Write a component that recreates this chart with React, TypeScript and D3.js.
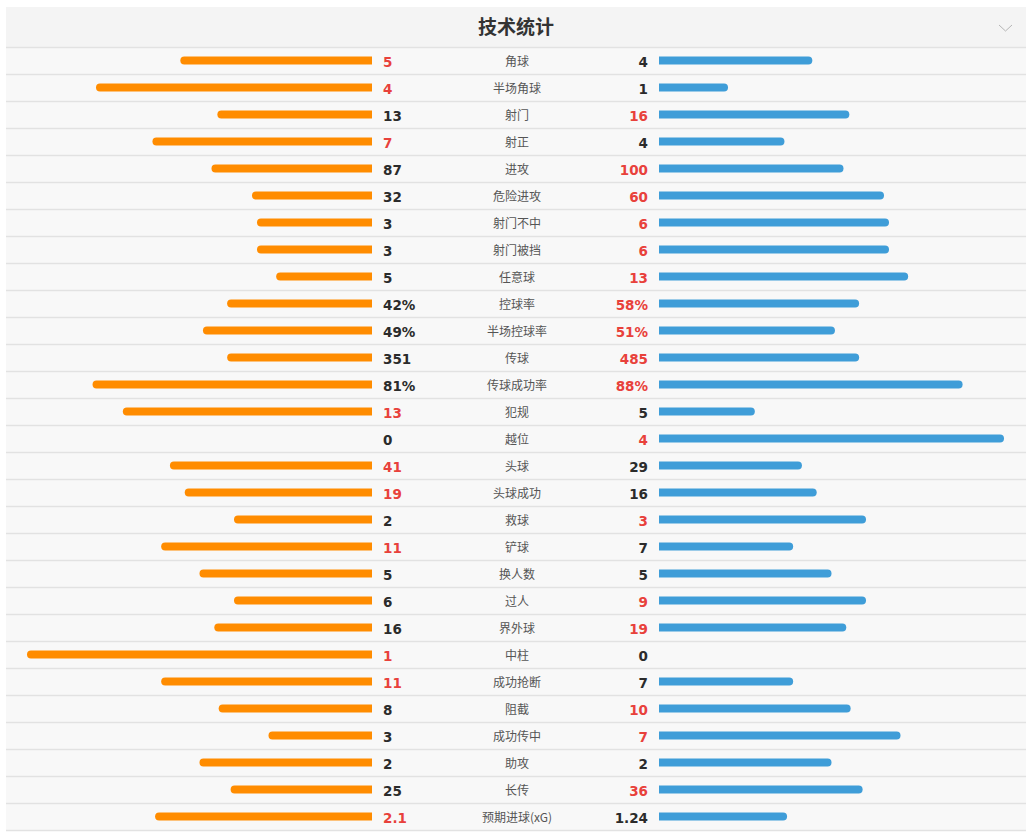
import { useEffect, useRef } from "react"
import * as d3 from "d3"

// stat names, home (left) and away (right) values
const labels = [
  "角球", "半场角球", "射门", "射正", "进攻", "危险进攻", "射门不中", "射门被挡", "任意球",
  "控球率", "半场控球率", "传球", "传球成功率", "犯规", "越位", "头球", "头球成功", "救球",
  "铲球", "换人数", "过人", "界外球", "中柱", "成功抢断", "阻截", "成功传中", "助攻", "长传",
  "预期进球(xG)",
]
const homeValues = [5, 4, 13, 7, 87, 32, 3, 3, 5, 42, 49, 351, 81, 13, 0, 41, 19, 2, 11, 5, 6, 16, 1, 11, 8, 3, 2, 25, 2.1]
const awayValues = [4, 1, 16, 4, 100, 60, 6, 6, 13, 58, 51, 485, 88, 5, 4, 29, 16, 3, 7, 5, 9, 19, 0, 7, 10, 7, 2, 36, 1.24]
const percentRows = ["控球率", "半场控球率", "传球成功率"]

const title = "技术统计"

export default function App() {
  const svgRef = useRef<SVGSVGElement>(null)

  useEffect(() => {
    if (!svgRef.current) return
    const svg = d3.select(svgRef.current)
    svg.selectAll("*").remove()

    const width = 1034
    const height = 834
    const panelX = 6
    const panelW = 1020
    const headerTop = 7
    const headerH = 40
    const rowH = 27
    const top = headerTop + headerH
    const leftEdge = 372
    const rightEdge = 659
    const maxBar = 345
    const barH = 8
    const r = 4

    const orange = "#ff8c00"
    const blue = "#3f9dd8"
    const red = "#e8413b"
    const dark = "#2b2b2b"
    const numFont = "Tahoma, 'DejaVu Sans', sans-serif"
    const cjkFont = "'Noto Sans CJK SC', 'Noto Sans', sans-serif"

    svg.attr("width", width).attr("height", height)

    // header
    svg.append("rect").attr("x", panelX).attr("y", headerTop).attr("width", panelW).attr("height", headerH).attr("fill", "#f4f4f4")
    svg.append("text")
      .attr("x", 516).attr("y", headerTop + headerH / 2 + 7)
      .attr("text-anchor", "middle")
      .style("font-family", cjkFont).style("font-size", "19px").style("font-weight", "bold")
      .style("fill", "#333")
      .text(title)
    svg.append("path")
      .attr("d", "M999,25 L1005.5,31 L1012,25")
      .attr("fill", "none").attr("stroke", "#b5b5b5").attr("stroke-width", 1)

    const y = d3.scaleBand<number>().domain(d3.range(labels.length)).range([top, top + rowH * labels.length])
    svg.append("rect").attr("x", panelX).attr("y", top).attr("width", panelW).attr("height", rowH * labels.length).attr("fill", "#f8f8f8")

    // dividers
    svg.selectAll(".div")
      .data(d3.range(labels.length + 1))
      .enter()
      .append("line")
      .attr("x1", panelX).attr("x2", panelX + panelW)
      .attr("y1", (i) => top + i * rowH + 0.5).attr("y2", (i) => top + i * rowH + 0.5)
      .attr("stroke", "#e2e2e2").attr("stroke-width", 1.5)

    const row = svg.selectAll(".row")
      .data(labels.map((name, i) => ({ name, i, h: homeValues[i], a: awayValues[i] })))
      .enter()
      .append("g")
      .attr("transform", (d) => `translate(0,${(y(d.i) ?? 0) + rowH / 2})`)

    // percentage rows are scaled against 100, others by share of the pair
    const share = d3.scaleLinear().domain([0, 1]).range([0, maxBar])
    const barW = (v: number, d: { h: number; a: number; name: string }) => {
      if (percentRows.includes(d.name)) return share(v / 100)
      const t = d.h + d.a
      return t === 0 ? 0 : share(v / t)
    }

    row.append("path")
      .attr("d", (d) => {
        const w = barW(d.h, d)
        if (w <= 0) return ""
        const x0 = leftEdge - w
        return `M${leftEdge},${-barH / 2} L${x0 + r},${-barH / 2} A${r},${r} 0 0 0 ${x0 + r},${barH / 2} L${leftEdge},${barH / 2} Z`
      })
      .attr("fill", orange)

    row.append("path")
      .attr("d", (d) => {
        const w = barW(d.a, d)
        if (w <= 0) return ""
        const x1 = rightEdge + w
        return `M${rightEdge},${-barH / 2} L${x1 - r},${-barH / 2} A${r},${r} 0 0 1 ${x1 - r},${barH / 2} L${rightEdge},${barH / 2} Z`
      })
      .attr("fill", blue)

    const fmt = (v: number, name: string) => (percentRows.includes(name) ? `${v}%` : `${v}`)

    row.append("text")
      .attr("x", 383).attr("y", 6)
      .style("font-family", numFont).style("font-size", "13.5px").style("font-weight", "bold")
      .style("fill", (d) => (d.h > d.a ? red : dark))
      .text((d) => fmt(d.h, d.name))

    row.append("text")
      .attr("x", 648).attr("y", 6).attr("text-anchor", "end")
      .style("font-family", numFont).style("font-size", "13.5px").style("font-weight", "bold")
      .style("fill", (d) => (d.a > d.h ? red : dark))
      .text((d) => fmt(d.a, d.name))

    row.append("text")
      .attr("x", 517).attr("y", 5.5).attr("text-anchor", "middle")
      .style("font-family", cjkFont).style("font-size", "12px")
      .style("fill", "#555")
      .text((d) => d.name)
  }, [])

  return <svg ref={svgRef} style={{ position: "absolute", left: 0, top: 0, display: "block" }} />
}
